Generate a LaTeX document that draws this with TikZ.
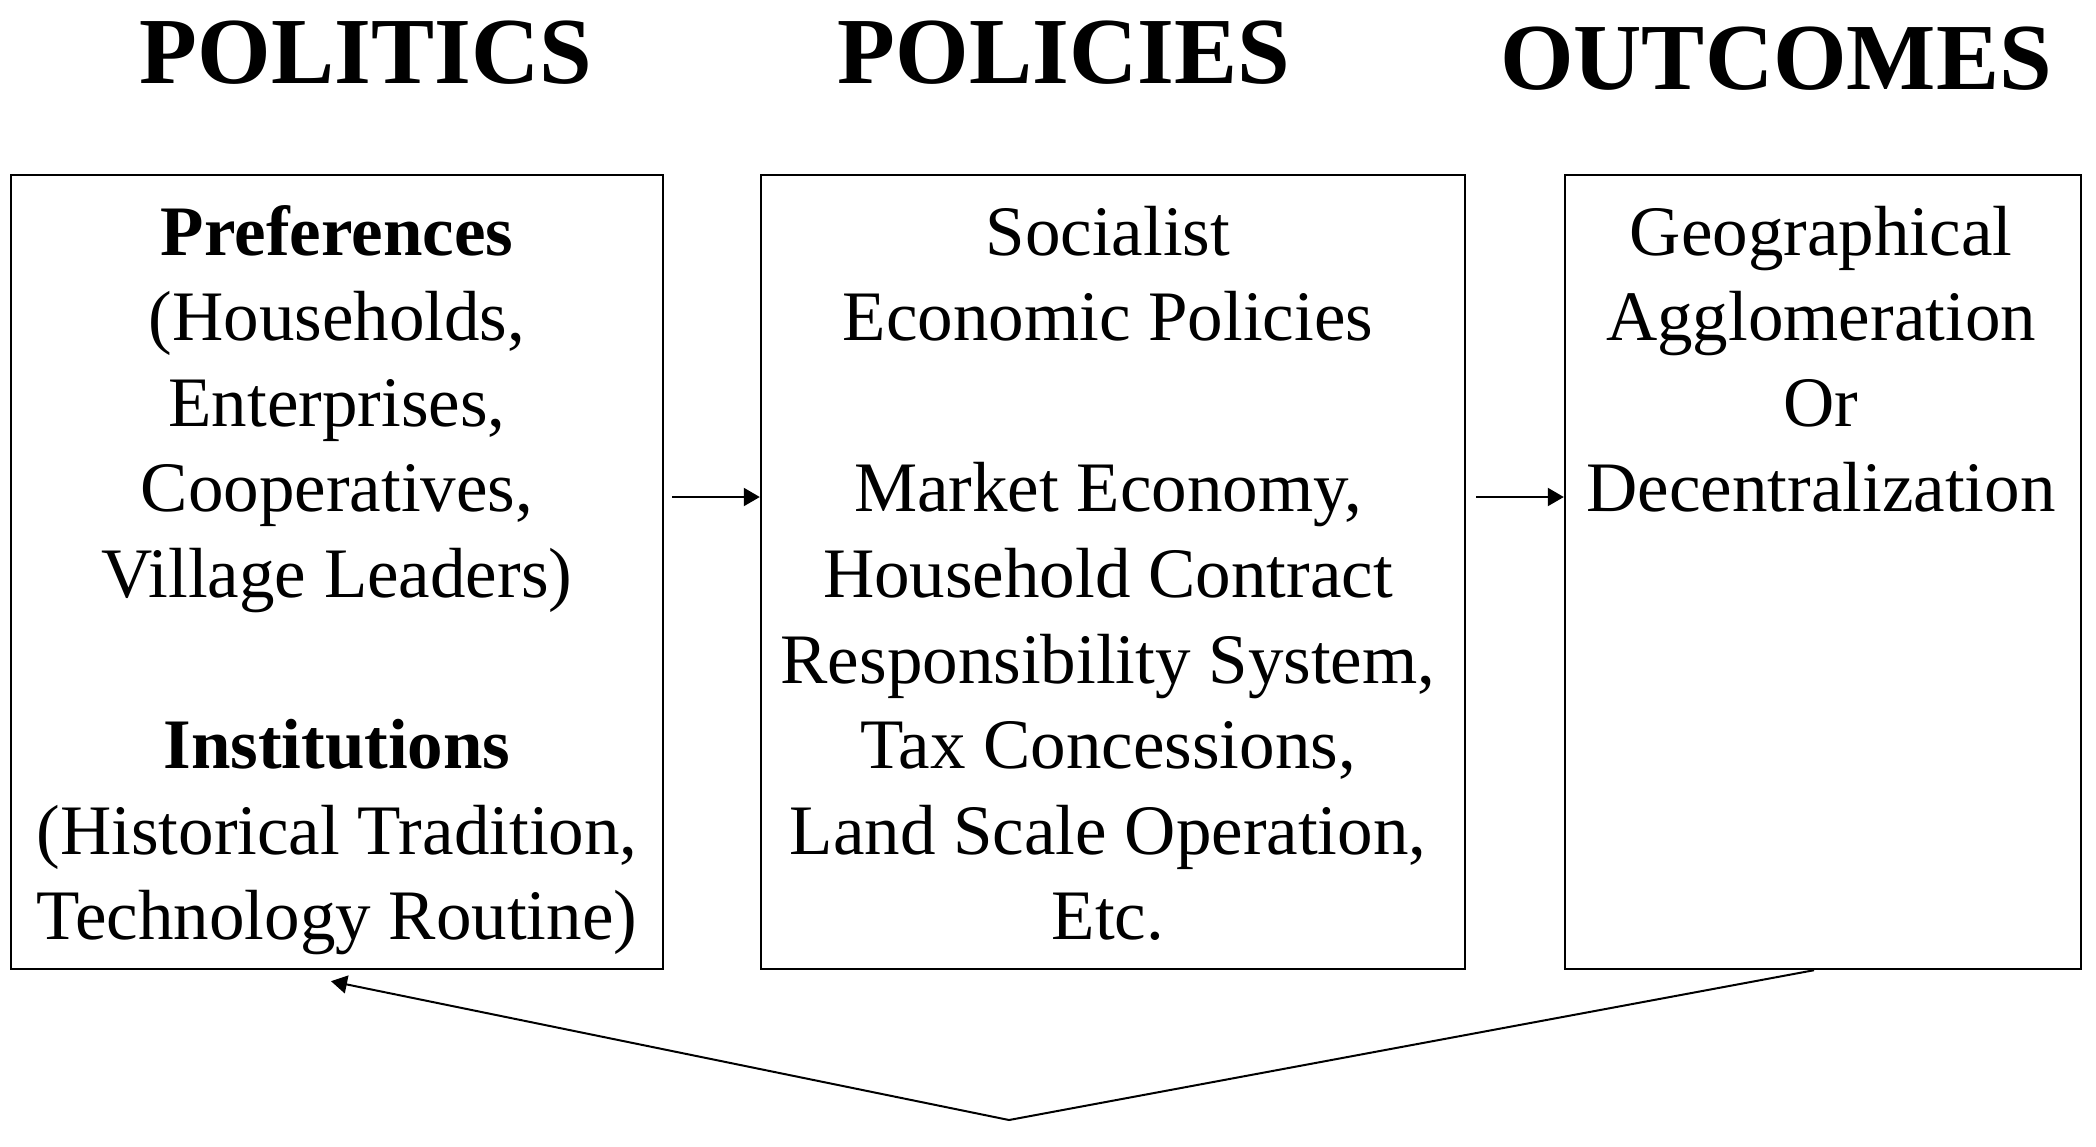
\documentclass[tikz,border=0pt]{standalone}
\usepackage{fontspec}
\setmainfont{Liberation Serif}
\usetikzlibrary{arrows.meta}

\begin{document}
\begin{tikzpicture}[x=0.5pt,y=-0.5pt,
  head/.style={anchor=base,inner sep=0pt,font=\fontsize{47.3}{50}\selectfont\bfseries},
  frame/.style={draw,line width=1.2pt,inner sep=0pt},
  boxtext/.style={anchor=base,inner sep=0pt,font=\fontsize{35.5}{42.8}\selectfont},
  link/.style={line width=1pt,-{Triangle[length=8pt,width=9pt]}}]
\useasboundingbox (0,0) rectangle (2096,1146);

\node[head] (h1) at (366,83) {POLITICS};
\node[head] (h2) at (1064,83) {POLICIES};
\node[head] (h3) at (1776,89) {OUTCOMES};

\node[frame,minimum width=326pt,minimum height=397pt] (pol) at (337,572) {};
\node[frame,minimum width=352pt,minimum height=397pt] (plc) at (1113,572) {};
\node[frame,minimum width=258pt,minimum height=397pt] (out) at (1823,572) {};

\node[boxtext] (t1) at (337,255) {\parbox[t]{326pt}{\centering
  \textbf{Preferences}\\ (Households,\\ Enterprises,\\ Cooperatives,\\ Village Leaders)\\[42.8pt]
  \textbf{Institutions}\\ (Historical Tradition,\\ Technology Routine)}};
\node[boxtext] (t2) at (1108,255) {\parbox[t]{352pt}{\centering
  Socialist\\ Economic Policies\\[42.8pt]
  Market Economy,\\ Household Contract\\ Responsibility System,\\ Tax Concessions,\\ Land Scale Operation,\\ Etc.}};
\node[boxtext] (t3) at (1821,255) {\parbox[t]{258pt}{\centering
  Geographical\\ Agglomeration\\ Or\\ Decentralization}};

\coordinate (fb) at (1009,1120);

\path[draw,link] ([xshift=4pt,yshift=37.5pt]pol.east) -- ([yshift=37.5pt]plc.west);
\path[draw,link] ([xshift=5pt,yshift=37.5pt]plc.east) -- ([yshift=37.5pt]out.west);
\path[draw,link] ([xshift=-4.5pt]out.south) -- (fb) -- ([xshift=-3pt,yshift=-5.5pt]pol.south);
\end{tikzpicture}
\end{document}
